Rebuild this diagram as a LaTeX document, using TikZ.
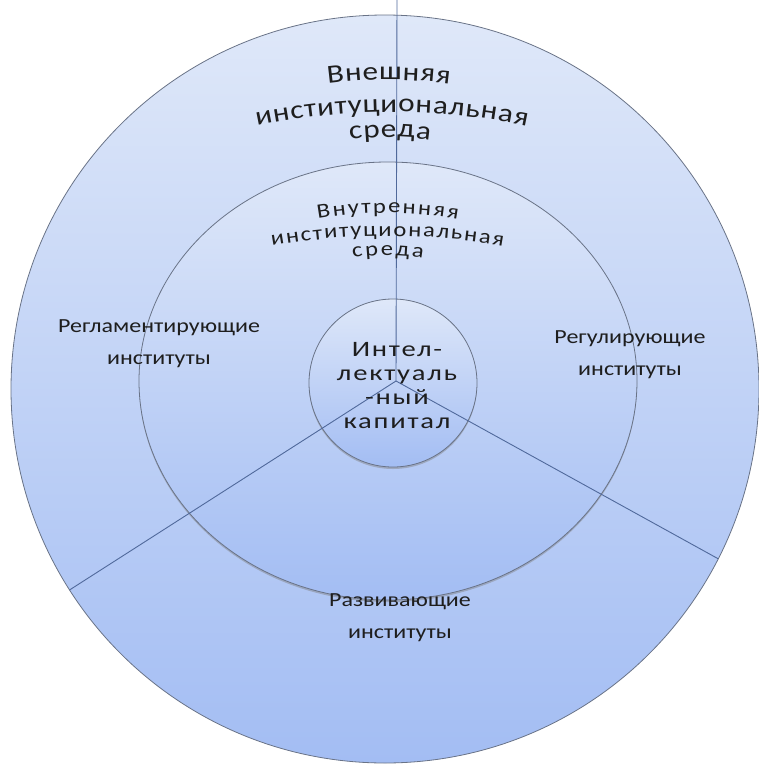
\documentclass[tikz,border=0pt]{standalone}
\usepackage{fontspec}
\setmainfont{Carlito}
\newfontfamily\widefont[FakeStretch=1.2]{Carlito}
\newfontfamily\hubfont[FakeStretch=1.3,LetterSpace=8]{Carlito}
\usetikzlibrary{decorations.text,shadows}

\definecolor{ringtop}{RGB}{223,232,249}
\definecolor{ringbot}{RGB}{163,189,243}
\definecolor{rim}{RGB}{105,115,135}
\definecolor{spoke}{RGB}{80,105,155}
\definecolor{ink}{RGB}{30,30,30}

\begin{document}
\begin{tikzpicture}[x=1pt,y=1pt,
ring/.style={draw=rim,line width=0.8pt,top color=ringtop,bottom color=ringbot},
spokeline/.style={draw=spoke,line width=0.9pt},
lbl/.style={font=\widefont\fontsize{20}{32}\selectfont,align=center,text=ink},
archbig/.style={decorate,decoration={text along path,text align=fit to path,
  text color=ink,text={|\widefont\fontsize{26}{26}\selectfont|#1}}},
archsmall/.style={decorate,decoration={text along path,text align=fit to path,
  text color=ink,text={|\widefont\fontsize{20.5}{20.5}\selectfont|#1}}}]
\useasboundingbox (0,0) rectangle (759,-764);

% rings
\coordinate (ctr) at (385,-389);
\draw[ring] (ctr) circle[radius=374];
\draw[ring,drop shadow={shadow xshift=0pt,shadow yshift=-2pt,opacity=0.45}] (388,-381) ellipse[x radius=249,y radius=219];
\draw[ring,drop shadow={shadow xshift=0pt,shadow yshift=-2pt,opacity=0.45}] (393,-383) circle[radius=84];

% spokes
\coordinate (hub) at (396,-381);
\coordinate (top) at (397,0);
\coordinate (lowleft) at ([shift={(212.5:374)}]ctr);
\coordinate (lowright) at ([shift={(-27:374)}]ctr);
\draw[spokeline] (hub) -- (top);
\draw[spokeline] (hub) -- (lowleft);
\draw[spokeline] (hub) -- (lowright);

% arched titles
\path[archbig=Внешняя] (328,-84) arc[start angle=97.5,end angle=82.5,radius=467];
\path[archbig=институциональная] (257,-126) arc[start angle=101.84,end angle=78.16,radius=658];
\path[archbig=среда] (350,-140) arc[start angle=98.6,end angle=81.4,radius=268];
\path[archsmall=Внутренняя] (318,-219) arc[start angle=99.8,end angle=80.2,radius=411];
\path[archsmall=институциональная] (272,-246) arc[start angle=99.9,end angle=80.1,radius=672];
\path[archsmall=среда] (353,-258) arc[start angle=99.8,end angle=80.2,radius=206];

% sector labels
\node[lbl] (reglament) at (159,-344) {Регламентирующие\\институты};
\node[lbl] (regul) at (630,-355) {Регулирующие\\институты};
\node[lbl] (razviv) at (400,-618) {Развивающие\\институты};
\node[font=\hubfont\fontsize{22}{24}\selectfont,align=center,text=ink] (capital) at (397,-386) {Интел-\\лектуаль\\-ный\\капитал};
\end{tikzpicture}
\end{document}
